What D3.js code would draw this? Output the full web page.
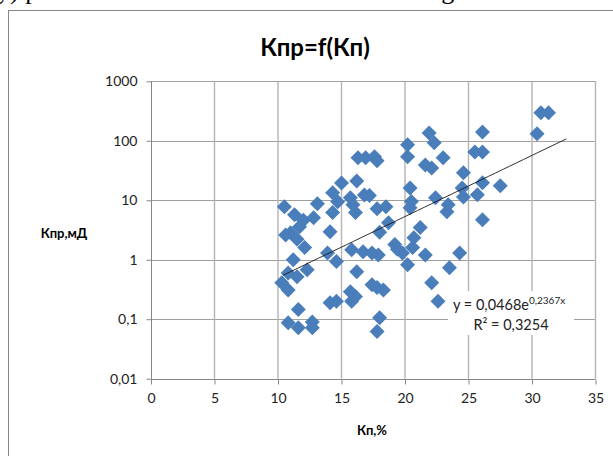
<!DOCTYPE html>
<html>
<head>
<meta charset="utf-8">
<script src="https://cdn.jsdelivr.net/npm/d3@7"></script>
<style>
  html, body { margin: 0; padding: 0; background: #fff; }
  svg { display: block; }
  text { font-family: Lato, "Open Sans", "Liberation Sans", sans-serif; }
</style>
</head>
<body>
<svg id="chart" width="613" height="456"></svg>
<script>
// Porosity (Кп, %) of each sample
const porosity = [
  10.5, 11.3, 12.0, 11.7, 11.0, 10.6, 11.5, 12.1, 11.2, 12.3,
  10.8, 11.5, 10.3, 10.8, 11.6, 10.8, 11.6, 12.7, 12.7, 12.8,
  13.1, 14.3, 14.3, 14.1, 14.7, 15.0, 15.7, 15.9, 16.1, 16.2,
  16.8, 13.9, 14.6, 15.8, 16.7, 16.2, 14.1, 14.6, 15.7, 16.1,
  15.8, 16.3, 16.9, 17.6, 17.8, 17.2, 17.8, 18.5, 18.7, 18.0,
  17.4, 17.9, 19.2, 19.4, 19.8, 17.4, 17.8, 18.3, 18.0, 17.8,
  20.2, 20.2, 21.9, 22.3, 21.6, 22.1, 23.0, 20.4, 20.5, 20.4,
  22.4, 23.4, 23.3, 21.2, 20.7, 20.6, 21.6, 20.2, 23.5, 22.1,
  22.6, 24.3, 24.6, 24.5, 26.1, 27.5, 25.7, 24.6, 25.5, 26.1,
  26.1, 30.4, 30.7, 31.3, 26.1
];
// Permeability (Кпр, мД) of each sample
const permeability = [
  7.8, 5.7, 4.6, 3.6, 2.85, 2.6, 2.2, 1.6, 1.0, 0.68,
  0.6, 0.52, 0.41, 0.31, 0.145, 0.087, 0.072, 0.09, 0.072, 5.1,
  8.7, 13.4, 6.2, 2.95, 9.4, 19.6, 11, 8.4, 6.2, 21,
  12.3, 1.3, 0.93, 1.47, 1.36, 0.63, 0.19, 0.2, 0.29, 0.24,
  0.2, 52, 52, 54, 46, 12, 7.2, 7.8, 4.2, 2.9,
  1.3, 1.2, 1.8, 1.5, 1.3, 0.38, 0.34, 0.31, 0.106, 0.062,
  86, 54, 135, 93, 39, 35, 52, 16, 9.5, 7.5,
  11, 8.4, 6.4, 3.5, 2.35, 1.6, 1.2, 0.82, 0.73, 0.41,
  0.2, 1.3, 29, 16, 19.7, 17.5, 12.4, 11.4, 65, 65,
  141, 131, 296, 296, 4.7
];

const xTicks = [0, 5, 10, 15, 20, 25, 30, 35];
const yTicks = [0.01, 0.1, 1, 10, 100, 1000];
const yTickLabels = ["0,01", "0,1", "1", "10", "100", "1000"];

// Exponential trendline y = a·e^(b·x)
const trendA = 0.0468;
const trendB = 0.2367;
const trendRange = [10.4, 32.7];
const trendLabel = { coef: "y = 0,0468e", power: "0,2367x", r2: "R² = 0,3254" };

const titleText = "Кпр=f(Кп)";
const xTitle = "Кп,%";
const yTitle = "Кпр,мД";

const svg = d3.select("#chart");

// last line of the surrounding document text, mostly above the page edge
svg.append("text").attr("x", -3).attr("y", -1)
  .style("font-family", "'Liberation Serif', serif").attr("font-size", 26).attr("fill", "#000")
  .text("у) рис");
svg.append("text").attr("x", 421).attr("y", -1)
  .style("font-family", "'Liberation Serif', serif").attr("font-size", 26).attr("fill", "#000")
  .text("log");

const x = d3.scaleLinear().domain([0, 35]).range([151, 595.5]);
const y = d3.scaleLog().domain([0.01, 1000]).range([378.7, 81.3]);

// chart frame
svg.append("rect")
  .attr("x", 8.5).attr("y", 10.5)
  .attr("width", 640).attr("height", 480)
  .attr("fill", "#fff").attr("stroke", "#868686").attr("stroke-width", 1);

// gridlines
svg.append("g").selectAll("line").data(yTicks.slice(1)).join("line")
  .attr("x1", x(0)).attr("x2", x(35))
  .attr("y1", d => Math.round(y(d)) + 0.5).attr("y2", d => Math.round(y(d)) + 0.5)
  .attr("stroke", "#a0a0a0").attr("stroke-width", 1);
svg.append("g").selectAll("line").data(xTicks.slice(1)).join("line")
  .attr("x1", d => x(d)).attr("x2", d => x(d))
  .attr("y1", y(1000)).attr("y2", y(0.01))
  .attr("stroke", "#b4b4b4").attr("stroke-width", 1.4);

// axes
const xAxis = d3.axisBottom(x).tickValues(xTicks).tickSize(5).tickPadding(9)
  .tickFormat(d3.format("d"));
const gx = svg.append("g").attr("transform", `translate(0,${Math.round(y(0.01)) + 0.5})`).call(xAxis);
const yAxis = d3.axisLeft(y).tickValues(yTicks).tickSize(5).tickPadding(9)
  .tickFormat((d, i) => yTickLabels[i]);
const gy = svg.append("g").attr("transform", `translate(${Math.round(x(0)) + 0.5},0)`).call(yAxis);
[gx, gy].forEach(g => {
  g.select(".domain").attr("stroke", "#868686");
  g.selectAll(".tick line").attr("stroke", "#868686");
  g.selectAll(".tick text").attr("fill", "#222").attr("font-size", 14)
    .style("font-family", "Lato, 'Open Sans', sans-serif");
});
gx.select(".domain").attr("d", `M${x(0)},0H${x(35)}`);
gy.select(".domain").attr("d", `M0,${y(0.01)}V${y(1000)}`);

// data markers
const diamond = "M0,-7.5L7.5,0L0,7.5L-7.5,0Z";
svg.append("g").selectAll("path").data(porosity.map((p, i) => [p, permeability[i]])).join("path")
  .attr("d", diamond)
  .attr("transform", d => `translate(${x(d[0])},${y(d[1])})`)
  .attr("fill", "#4a7ebb");

// trendline
const trendPts = d3.range(0, 41).map(i => {
  const xv = trendRange[0] + (trendRange[1] - trendRange[0]) * i / 40;
  return [xv, trendA * Math.exp(trendB * xv)];
});
svg.append("path")
  .attr("d", d3.line().x(d => x(d[0])).y(d => y(d[1]))(trendPts))
  .attr("fill", "none").attr("stroke", "#1a1a1a").attr("stroke-width", 0.9);

// trendline equation box
svg.append("rect").attr("x", 448).attr("y", 291).attr("width", 126).attr("height", 44).attr("fill", "#fff");
const eq = svg.append("text").attr("x", 453).attr("y", 310).attr("font-size", 14.5).attr("fill", "#222");
eq.append("tspan").text(trendLabel.coef);
eq.append("tspan").attr("dy", -6).attr("font-size", 10).text(trendLabel.power);
svg.append("text").attr("x", 511).attr("y", 330).attr("text-anchor", "middle")
  .attr("font-size", 14.5).attr("fill", "#222").text(trendLabel.r2);

// titles
svg.append("text").attr("x", 315).attr("y", 56).attr("text-anchor", "middle")
  .attr("font-size", 24).attr("font-weight", "bold").attr("fill", "#000").text(titleText);
svg.append("text").attr("x", 372).attr("y", 435).attr("text-anchor", "middle")
  .attr("font-size", 13).attr("font-weight", "bold").attr("fill", "#000").text(xTitle);
svg.append("text").attr("x", 64).attr("y", 238).attr("text-anchor", "middle")
  .attr("font-size", 13).attr("font-weight", "bold").attr("fill", "#000").text(yTitle);
</script>
</body>
</html>
